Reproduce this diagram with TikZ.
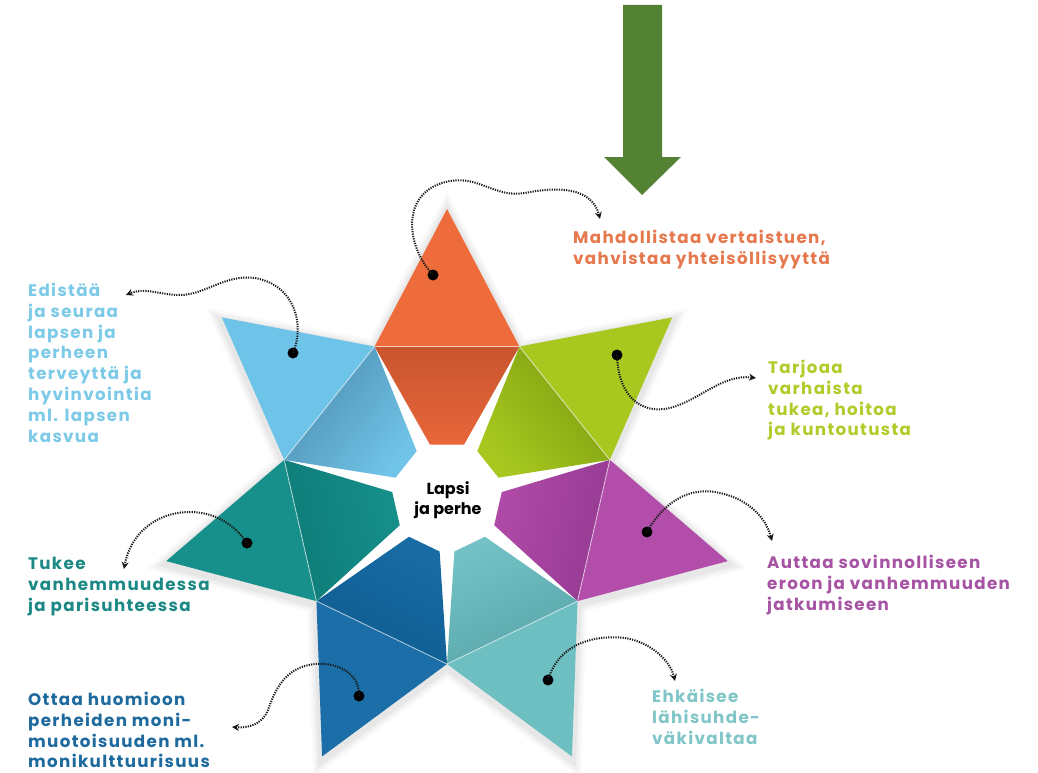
\documentclass[tikz,border=0pt]{standalone}
\usepackage{fontspec}
\setmainfont{Poppins}
\newfontfamily\labfont{Poppins}[LetterSpace=8]
\usetikzlibrary{arrows.meta}
\definecolor{arrowgreen}{HTML}{548235}
\definecolor{orOut}{HTML}{EE6B3B}\definecolor{orA}{HTML}{C8552E}\definecolor{orB}{HTML}{E8663A}
\definecolor{lbOut}{HTML}{6EC4E8}\definecolor{lbA}{HTML}{4E8FB2}\definecolor{lbB}{HTML}{70C4E8}
\definecolor{tlOut}{HTML}{17908B}\definecolor{tlA}{HTML}{0E7C78}\definecolor{tlB}{HTML}{168F8A}
\definecolor{blOut}{HTML}{1B6EA8}\definecolor{blA}{HTML}{0E5C90}\definecolor{blB}{HTML}{186CA5}
\definecolor{ltOut}{HTML}{6DBFC1}\definecolor{ltA}{HTML}{5AA6AA}\definecolor{ltB}{HTML}{72C2C5}
\definecolor{puOut}{HTML}{B24DAA}\definecolor{puA}{HTML}{953A92}\definecolor{puB}{HTML}{B04AA8}
\definecolor{grOut}{HTML}{A9C81F}\definecolor{grA}{HTML}{7E9E10}\definecolor{grB}{HTML}{A8C820}
\definecolor{txOr}{HTML}{E5784C}
\definecolor{txGr}{HTML}{B2CB2A}
\definecolor{txPu}{HTML}{A653A3}
\definecolor{txLt}{HTML}{80C6C8}
\definecolor{txBl}{HTML}{1E6A9E}
\definecolor{txTl}{HTML}{1C8984}
\definecolor{txLb}{HTML}{7CCAE8}
\tikzset{
  lab/.style={anchor=north west, inner sep=0pt, align=left, font=\labfont\bfseries\fontsize{16.7}{20.8}\selectfont},
  pin/.style={circle, fill=black, inner sep=0pt, minimum size=11pt},
  conn/.style={black!90, line width=2pt, dash pattern=on 1.2pt off 1.2pt, -{Stealth[length=7pt,width=7pt]}},
}
\begin{document}
\begin{tikzpicture}[x=1pt,y=-1pt]
\fill[white] (0,0) rectangle (1038,773);
\useasboundingbox (0,0) rectangle (1038,773);
% green arrow
\fill[arrowgreen] (623,5) -- (662,5) -- (662,157) -- (681,157) -- (642,195) -- (604,157) -- (623,157) -- cycle;
% star
\begin{scope}[xshift=447pt,yshift=-497pt,y=1pt]
  \foreach \s/\op in {1.07/0.025,1.05/0.03,1.03/0.04}{
    \fill[black,opacity=\op,yshift=-3pt] (90:288*\s)
      \foreach \i in {0,...,6}{ -- ({90+\i*51.4286}:288*\s) -- ({115.714+\i*51.4286}:167*\s) } -- cycle;
  }
  \fill[white] (115.714:167) \foreach \i in {1,...,6}{ -- ({115.714+\i*51.4286}:167) } -- cycle;
  \foreach \k/\co/\ca/\cb in {0/orOut/orA/orB,1/lbOut/lbA/lbB,2/tlOut/tlA/tlB,3/blOut/blA/blB,4/ltOut/ltA/ltB,5/puOut/puA/puB,6/grOut/grA/grB}{
    \pgfmathsetmacro{\t}{90+\k*360/7}
    \pgfmathsetmacro{\ta}{\t-25.714}
    \pgfmathsetmacro{\tb}{\t+25.714}
    \pgfmathsetmacro{\sa}{\t-18}
    \pgfmathsetmacro{\sb}{\t+18}
    \pgfmathsetmacro{\sh}{\t-90}
    \fill[\co] (\t:288) -- (\ta:167) -- (\tb:167) -- cycle;
    \shade[top color=\ca, bottom color=\cb, shading angle=\sh] (\ta:167) -- (\tb:167) -- (\sb:55) -- (\sa:55) -- cycle;
    \draw[white, opacity=0.6, line width=0.9pt] (\ta:167) -- (\tb:167);
  }
\end{scope}
\node[align=center, inner sep=0pt, font=\bfseries\fontsize{16}{19.5}\selectfont] (center) at (448,500) {Lapsi\\ja perhe};
% labels
\node[lab, text=txOr] (l1) at (573,230) {Mahdollistaa vertaistuen,\\vahvistaa yhteisöllisyyttä};
\node[lab, text=txGr] (l2) at (768,360) {Tarjoaa\\varhaista\\tukea, hoitoa\\ja kuntoutusta};
\node[lab, text=txPu] (l3) at (767,555) {Auttaa sovinnolliseen\\eroon ja vanhemmuuden\\jatkumiseen};
\node[lab, text=txLt] (l4) at (652,689) {Ehkäisee\\lähisuhde-\\väkivaltaa};
\node[lab, text=txBl] (l5) at (28,692) {Ottaa huomioon\\perheiden moni-\\muotoisuuden ml.\\monikulttuurisuus};
\node[lab, text=txTl] (l6) at (28,557) {Tukee\\vanhemmuudessa\\ja parisuhteessa};
\node[lab, text=txLb] (l7) at (28,283) {Edistää\\ja seuraa\\lapsen ja\\perheen\\terveyttä ja\\hyvinvointia\\ml. lapsen\\kasvua};
% pins
\node[pin] (d1) at (433,275) {};
\node[pin] (d2) at (617,355) {};
\node[pin] (d3) at (647,532) {};
\node[pin] (d4) at (548,680) {};
\node[pin] (d5) at (359,696) {};
\node[pin] (d6) at (247,543) {};
\node[pin] (d7) at (293,353) {};
\coordinate (e1) at (600,219);
\coordinate (e2) at (756,378);
\coordinate (e3) at (772,541);
\coordinate (e4) at (675,681);
\coordinate (e5) at (232,727);
\coordinate (e6) at (124,569);
\coordinate (e7) at (126,295);
% connectors
\draw[conn] (d1.center) .. controls (405,245) and (400,190) .. (450,181) .. controls (480,176) and (495,198) .. (525,193) .. controls (560,186) and (592,188) .. (e1);
\draw[conn] (d2.center) .. controls (618,395) and (640,415) .. (670,408) .. controls (700,400) and (722,374) .. (e2);
\draw[conn] (d3.center) .. controls (665,500) and (690,488) .. (715,492) .. controls (745,497) and (765,515) .. (e3);
\draw[conn] (d4.center) .. controls (560,640) and (600,635) .. (625,638) .. controls (650,642) and (670,660) .. (e4);
\draw[conn] (d5.center) .. controls (360,675) and (340,662) .. (315,664) .. controls (285,667) and (275,690) .. (268,710) .. controls (262,725) and (248,728) .. (e5);
\draw[conn] (d6.center) .. controls (235,525) and (215,512) .. (190,512) .. controls (155,512) and (130,535) .. (e6);
\draw[conn] (d7.center) .. controls (305,325) and (295,285) .. (255,278) .. controls (225,274) and (205,295) .. (180,295) .. controls (160,295) and (145,287) .. (e7);
\end{tikzpicture}
\end{document}
